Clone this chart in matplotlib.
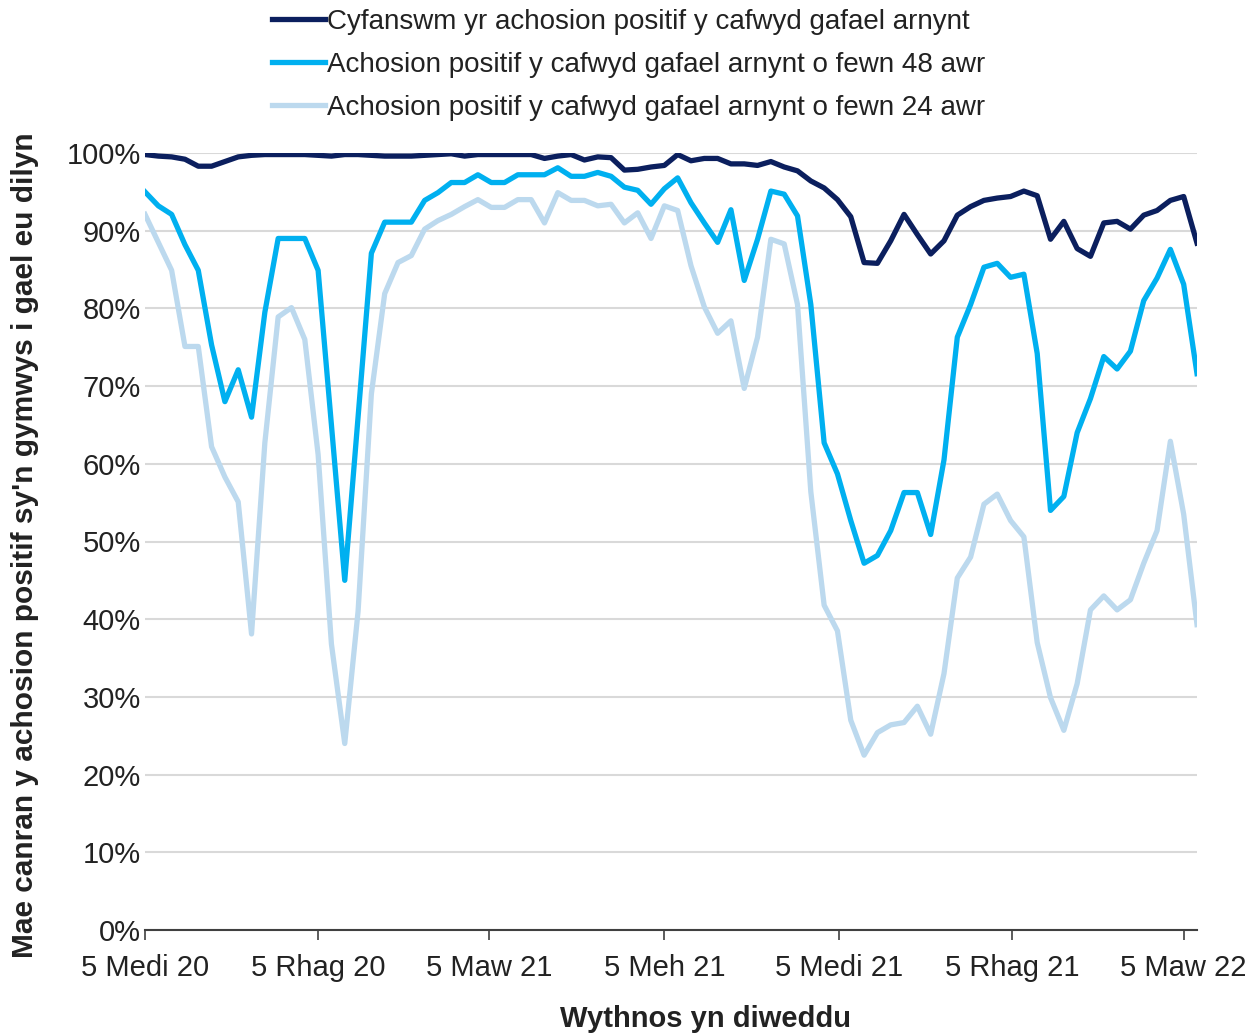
import matplotlib
matplotlib.use("Agg")
import matplotlib.pyplot as plt
import pandas as pd

weeks = pd.date_range("2020-09-05", periods=80, freq="7D")

total = [99.8, 99.6, 99.5, 99.2, 98.3, 98.3, 98.9, 99.5, 99.7, 99.8,
         99.8, 99.8, 99.8, 99.7, 99.6, 99.8, 99.8, 99.7, 99.6, 99.6,
         99.6, 99.7, 99.8, 99.9, 99.6, 99.8, 99.8, 99.8, 99.8, 99.8,
         99.3, 99.6, 99.8, 99.1, 99.5, 99.4, 97.8, 97.9, 98.2, 98.4,
         99.8, 99.0, 99.3, 99.3, 98.6, 98.6, 98.4, 98.9, 98.2, 97.7,
         96.4, 95.5, 94.0, 91.8, 85.9, 85.8, 88.7, 92.1, 89.5, 87.0,
         88.7, 92.0, 93.1, 93.9, 94.2, 94.4, 95.1, 94.5, 88.9, 91.2,
         87.7, 86.7, 91.0, 91.2, 90.2, 92.0, 92.6, 93.9, 94.4, 88.4]

within_48h = [95.0, 93.2, 92.1, 88.2, 84.9, 75.3, 68.0, 72.1, 66.0, 79.5,
              89.0, 89.0, 89.0, 84.9, 65.0, 45.0, 66.0, 87.1, 91.1, 91.1,
              91.1, 93.9, 94.9, 96.2, 96.2, 97.2, 96.2, 96.2, 97.2, 97.2,
              97.2, 98.1, 97.0, 97.0, 97.5, 97.0, 95.6, 95.2, 93.4, 95.4,
              96.8, 93.6, 91.0, 88.5, 92.7, 83.6, 88.9, 95.1, 94.7, 91.9,
              80.5, 62.7, 58.7, 52.7, 47.2, 48.2, 51.4, 56.3, 56.3, 50.9,
              60.5, 76.3, 80.5, 85.3, 85.8, 84.0, 84.4, 74.2, 54.0, 55.8,
              64.0, 68.4, 73.8, 72.2, 74.5, 81.0, 83.9, 87.6, 83.1, 71.6]

within_24h = [92.1, 88.5, 84.9, 75.1, 75.1, 62.2, 58.3, 55.1, 38.1, 62.7,
              78.9, 80.1, 76.0, 61.2, 36.8, 24.0, 41.0, 69.0, 81.9, 85.9,
              86.8, 90.2, 91.3, 92.1, 93.1, 94.0, 93.0, 93.0, 94.0, 94.0,
              91.0, 94.9, 93.9, 93.9, 93.2, 93.4, 91.0, 92.3, 89.0, 93.2,
              92.6, 85.5, 80.2, 76.8, 78.4, 69.7, 76.3, 88.9, 88.3, 80.5,
              56.4, 41.8, 38.5, 27.0, 22.5, 25.4, 26.4, 26.7, 28.8, 25.2,
              33.0, 45.3, 48.0, 54.8, 56.1, 52.7, 50.6, 37.0, 29.9, 25.7,
              31.7, 41.2, 43.0, 41.2, 42.5, 47.2, 51.4, 62.9, 53.5, 39.3]

tick_dates = pd.to_datetime(["2020-09-05", "2020-12-05", "2021-03-05", "2021-06-05",
                             "2021-09-05", "2021-12-05", "2022-03-05"])
tick_labels = ["5 Medi 20", "5 Rhag 20", "5 Maw 21", "5 Meh 21",
               "5 Medi 21", "5 Rhag 21", "5 Maw 22"]

labels = ["Cyfanswm yr achosion positif y cafwyd gafael arnynt",
          "Achosion positif y cafwyd gafael arnynt o fewn 48 awr",
          "Achosion positif y cafwyd gafael arnynt o fewn 24 awr"]
colors = ["#0b1f5e", "#00b0f0", "#bcd9ee"]

plt.rcParams["font.family"] = ["Liberation Sans", "DejaVu Sans"]

fig = plt.figure(figsize=(12.6, 10.35), dpi=100)
ax = fig.add_axes([145 / 1260, 1 - 930 / 1035, (1197 - 145) / 1260, (930 - 153) / 1035])

l3, = ax.plot(weeks, within_24h, color=colors[2], lw=3.8, label=labels[2])
l2, = ax.plot(weeks, within_48h, color=colors[1], lw=3.8, label=labels[1])
l1, = ax.plot(weeks, total, color=colors[0], lw=3.8, label=labels[0])

ax.set_ylim(0, 100)
ax.set_xlim(weeks[0], weeks[-1])
ax.set_yticks(range(0, 101, 10))
ax.set_yticklabels([f"{v}%" for v in range(0, 101, 10)])
ax.set_xticks(tick_dates)
ax.set_xticklabels(tick_labels)

ax.grid(axis="y", color="#d9d9d9", lw=1.5)
ax.set_axisbelow(True)
for s in ["top", "right", "left"]:
    ax.spines[s].set_visible(False)
ax.spines["bottom"].set_color("#404040")
ax.spines["bottom"].set_linewidth(1.5)
ax.tick_params(axis="y", length=0, pad=3, labelsize=21, labelcolor="#222222")
ax.tick_params(axis="x", length=7, width=1.2, color="#404040", pad=10,
               labelsize=21, labelcolor="#222222")

fig.legend(handles=[l1, l2, l3], loc="upper center", bbox_to_anchor=(0.499, 0.997),
           frameon=False, fontsize=20, handlelength=1.9, handletextpad=0.1,
           labelspacing=0.62, borderaxespad=0.0, borderpad=0.2, labelcolor="#222222")

fig.text(25 / 1260, 1 - 545 / 1035, "Mae canran y achosion positif sy'n gymwys i gael eu dilyn",
         rotation=90, ha="center", va="center", fontsize=21.5, fontweight="bold", color="#222222")
fig.text(705 / 1260, 1 - 1019 / 1035, "Wythnos yn diweddu",
         ha="center", va="center", fontsize=21, fontweight="bold", color="#222222")

fig.savefig("out.png", dpi=100)
